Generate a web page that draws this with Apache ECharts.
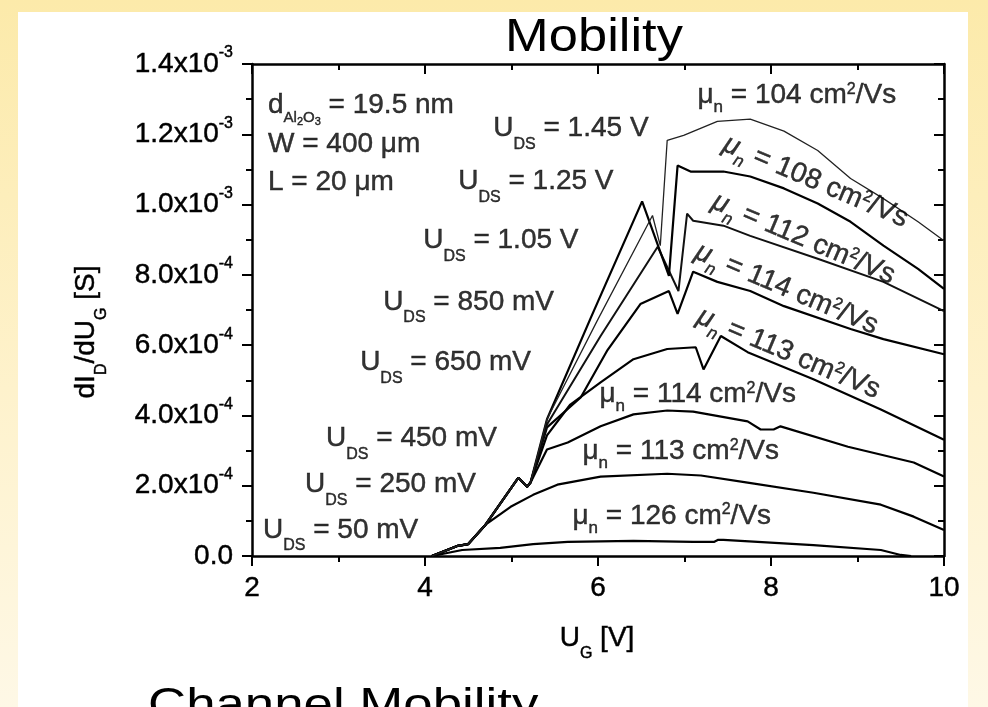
<!DOCTYPE html>
<html><head><meta charset="utf-8">
<script src="https://cdn.jsdelivr.net/npm/echarts@6/dist/echarts.min.js"></script>
<style>
html,body{margin:0;padding:0;width:988px;height:707px;overflow:hidden;}
body{background:linear-gradient(180deg,#FCEAAA 0%,#FEF2CC 55%,#FEF8E6 100%);}
#panel{position:absolute;left:18px;top:12px;width:950px;height:695px;background:#fff;}
#chart{position:absolute;left:0;top:0;width:988px;height:707px;}
</style></head><body><div id="panel"></div><div id="chart"></div>
<script>
const FONT = "'Liberation Sans', Arial, sans-serif";

// ---- tick labels ----
const xTickLabels = ['2', '4', '6', '8', '10'];
const yTickLabels = ['0.0', '2.0x10', '4.0x10', '6.0x10', '8.0x10', '1.0x10', '1.2x10', '1.4x10'];
const yTickExponents = ['', '-4', '-4', '-4', '-4', '-3', '-3', '-3'];

// ---- series (U_G [V], dI_D/dU_G [S]) ----
const seriesNames = ['50 mV', '250 mV', '450 mV', '650 mV', '850 mV', '1.05 V', '1.25 V', '1.45 V'];

const curve50 = [[4.08,0],[4.43,0.17e-4],[4.87,0.23e-4],[5.25,0.34e-4],[5.65,0.40e-4],[6.41,0.43e-4],[7.10,0.40e-4],[7.34,0.40e-4],[7.39,0.46e-4],[7.45,0.46e-4],[8.49,0.31e-4],[9.27,0.17e-4],[9.50,0.03e-4],[9.62,0]];

const curve250 = [[4.08,0],[4.38,0.29e-4],[4.50,0.34e-4],[4.70,0.89e-4],[4.99,1.40e-4],[5.25,1.74e-4],[5.53,2.03e-4],[6.03,2.26e-4],[6.80,2.34e-4],[7.19,2.29e-4],[7.73,2.09e-4],[8.49,1.80e-4],[9.27,1.46e-4],[9.65,1.12e-4],[10,0.74e-4]];

const curve450 = [[4.08,0],[4.38,0.29e-4],[4.50,0.34e-4],[4.70,0.89e-4],[5.08,2.23e-4],[5.18,1.97e-4],[5.22,2.09e-4],[5.41,3.03e-4],[5.65,3.23e-4],[6.03,3.69e-4],[6.41,4.03e-4],[6.80,4.14e-4],[7.10,4.11e-4],[7.73,3.83e-4],[7.88,3.60e-4],[8.03,3.60e-4],[8.11,3.69e-4],[8.89,3.11e-4],[9.65,2.66e-4],[10,2.26e-4]];

const curve650 = [[4.08,0],[4.38,0.29e-4],[4.50,0.34e-4],[4.70,0.89e-4],[5.08,2.23e-4],[5.18,1.97e-4],[5.22,2.09e-4],[5.41,3.43e-4],[5.68,4.31e-4],[6.03,4.94e-4],[6.41,5.60e-4],[6.80,5.89e-4],[7.13,5.94e-4],[7.22,5.31e-4],[7.42,6.26e-4],[7.73,5.80e-4],[8.49,5.03e-4],[9.27,4.17e-4],[10,3.31e-4]];

const curve850 = [[4.08,0],[4.38,0.29e-4],[4.50,0.34e-4],[4.70,0.89e-4],[5.08,2.23e-4],[5.18,1.97e-4],[5.22,2.09e-4],[5.41,3.66e-4],[5.80,4.51e-4],[6.11,5.86e-4],[6.49,7.17e-4],[6.82,7.54e-4],[6.92,6.89e-4],[7.10,8.09e-4],[7.38,7.80e-4],[7.76,7.54e-4],[8.15,7.11e-4],[8.92,6.46e-4],[9.30,6.17e-4],[10,5.74e-4]];

const curve1050 = [[4.08,0],[4.38,0.29e-4],[4.50,0.34e-4],[4.70,0.89e-4],[5.08,2.23e-4],[5.18,1.97e-4],[5.22,2.09e-4],[5.41,3.74e-4],[6.03,6.26e-4],[6.69,8.80e-4],[6.93,7.54e-4],[7.03,9.74e-4],[7.10,9.54e-4],[7.45,9.40e-4],[7.76,9.11e-4],[8.54,8.46e-4],[9.30,7.80e-4],[10,6.97e-4]];

const curve1250 = [[4.08,0],[4.38,0.29e-4],[4.50,0.34e-4],[4.70,0.89e-4],[5.08,2.23e-4],[5.18,1.97e-4],[5.22,2.09e-4],[5.41,3.89e-4],[5.91,6.74e-4],[6.51,10.09e-4],[6.82,7.97e-4],[6.92,11.11e-4],[7.07,10.94e-4],[7.45,10.94e-4],[7.76,10.80e-4],[8.15,10.46e-4],[8.54,10.03e-4],[8.92,9.51e-4],[9.30,8.83e-4],[9.70,8.17e-4],[10,7.60e-4]];

const curve1450 = [[4.08,0],[4.38,0.29e-4],[4.50,0.34e-4],[4.70,0.89e-4],[5.08,2.23e-4],[5.18,1.97e-4],[5.22,2.09e-4],[5.41,3.89e-4],[5.99,6.69e-4],[6.63,9.69e-4],[6.72,8.83e-4],[6.80,11.83e-4],[6.99,11.97e-4],[7.38,12.37e-4],[7.76,12.43e-4],[8.15,12.09e-4],[8.54,11.54e-4],[8.92,10.74e-4],[9.30,10.17e-4],[9.70,9.51e-4],[10,8.97e-4]];

const curves = [curve50, curve250, curve450, curve650, curve850, curve1050, curve1250, curve1450];

// ---- annotations (text, anchor in data units) ----
const annotationTexts = [
  '{p|d}{ps|Al}{pss|2}{ps|O}{pss|3}{p| = 19.5 nm}',
  '{p|W = 400 μm}',
  '{p|L = 20 μm}',
  '{t|U}{s|DS}{t| = 1.45 V}',
  '{t|U}{s|DS}{t| = 1.25 V}',
  '{t|U}{s|DS}{t| = 1.05 V}',
  '{t|U}{s|DS}{t| = 850 mV}',
  '{t|U}{s|DS}{t| = 650 mV}',
  '{t|U}{s|DS}{t| = 450 mV}',
  '{t|U}{s|DS}{t| = 250 mV}',
  '{t|U}{s|DS}{t| = 50 mV}',
  '{t|μ}{n|n}{t| = 104 cm}{sup|2}{t|/Vs}',
  '{ti|μ}{ni|n}{t| = 108 cm}{sup|2}{t|/Vs}',
  '{ti|μ}{ni|n}{t| = 112 cm}{sup|2}{t|/Vs}',
  '{ti|μ}{ni|n}{t| = 114 cm}{sup|2}{t|/Vs}',
  '{ti|μ}{ni|n}{t| = 113 cm}{sup|2}{t|/Vs}',
  '{t|μ}{n|n}{t| = 114 cm}{sup|2}{t|/Vs}',
  '{t|μ}{n|n}{t| = 113 cm}{sup|2}{t|/Vs}',
  '{t|μ}{n|n}{t| = 126 cm}{sup|2}{t|/Vs}'
];
const annotationX = [2.185, 2.185, 2.185, 4.789, 4.384, 3.979, 3.516, 3.25, 2.856, 2.613, 2.127, 7.15, 8.516, 8.377, 8.181, 8.204, 6.016, 5.82, 5.704];
const annotationY = [1.283e-3, 1.171e-3, 1.063e-3, 1.217e-3, 1.066e-3, 0.897e-3, 0.723e-3, 0.551e-3, 0.334e-3, 0.203e-3, 0.074e-3, 1.311e-3, 1.066e-3, 0.903e-3, 0.760e-3, 0.577e-3, 0.46e-3, 0.297e-3, 0.114e-3];
const annotationRotate = [0,0,0,0,0,0,0,0,0,0,0,0,-23,-23,-23,-23,0,0,0];

// ---- styles ----
const curveWidths = [2.2, 2.2, 2.2, 2.2, 2.2, 2, 2.2, 1.3];
const curveColors = ['#000','#000','#000','#000','#000','#111','#000','#222'];

function rs(size, extra, mode) {
  const base = {fontSize: size, fontFamily: FONT, color: '#000', fill: '#000'};
  if (mode === 'label') { base.textBorderColor = '#000'; base.textBorderWidth = 0.45; }
  if (mode === 'graphic') { base.stroke = '#000'; base.lineWidth = 0.45; }
  return Object.assign(base, extra || {});
}
function makeRich(mode) {
  return {
    t: rs(28, {lineHeight: 30}, mode),
    ti: rs(28, {lineHeight: 30, fontStyle: 'italic'}, mode),
    s: rs(16, {lineHeight: 18, padding: [32, 0, 0, 0]}, mode),
    n: rs(17, {lineHeight: 18, padding: [24, 0, 0, 0]}, mode),
    ni: rs(17, {lineHeight: 18, padding: [24, 0, 0, 0], fontStyle: 'italic'}, mode),
    sup: rs(16, {lineHeight: 18, padding: [0, 0, 12, 0]}, mode),
    p: rs(28, {lineHeight: 30}, mode),
    ps: rs(15, {lineHeight: 16, padding: [26, 0, 0, 0]}, mode),
    pss: rs(11, {lineHeight: 12, padding: [34, 0, 0, 0]}, mode),
    m: rs(28, {lineHeight: 30}, mode),
    e: rs(16, {lineHeight: 18, padding: [0, 0, 22, 0]}, mode)
  };
}
const RICH = makeRich('label');
const RICH_G = makeRich('graphic');

const chart = echarts.init(document.getElementById('chart'), null, {renderer: 'canvas'});

const axisLineStyle = {color: '#000', width: 2.5};
const tickStyle = {color: '#000', width: 2};

const series = curves.map((c, i) => ({
  name: seriesNames[i], type: 'line', data: c, showSymbol: false, symbol: 'none',
  lineStyle: {color: curveColors[i], width: curveWidths[i]}, z: 3, silent: true
}));

series.push({
  type: 'scatter', symbolSize: 0, silent: true, z: 4,
  data: annotationX.map((x, i) => ({
    value: [x, annotationY[i]],
    label: annotationRotate[i] ? {position: 'inside', rotate: annotationRotate[i], align: 'center'} : {position: 'right', distance: 0}
  })),
  label: {show: true, distance: 0, formatter: p => annotationTexts[p.dataIndex], rich: RICH}
});

const option = {
  animation: false,
  textStyle: {fontFamily: FONT},
  grid: {left: 252, right: 44, top: 64, bottom: 151, containLabel: false},
  xAxis: [{
    type: 'value', min: 2, max: 10, interval: 2, position: 'bottom',
    axisLine: {onZero: false, lineStyle: axisLineStyle},
    axisTick: {length: 10, lineStyle: tickStyle},
    minorTick: {show: true, splitNumber: 2, length: 6, lineStyle: tickStyle},
    splitLine: {show: false}, minorSplitLine: {show: false},
    axisLabel: {margin: 16, fontSize: 28, fontFamily: FONT, color: '#000', lineHeight: 32,
      textBorderColor: '#000', textBorderWidth: 0.45,
      formatter: v => xTickLabels[Math.round((v - 2) / 2)]}
  }, {
    type: 'value', min: 2, max: 10, interval: 2, position: 'top',
    axisLine: {onZero: false, lineStyle: axisLineStyle},
    axisTick: {inside: true, length: 10, lineStyle: tickStyle},
    minorTick: {show: true, splitNumber: 2, length: 6, lineStyle: tickStyle},
    splitLine: {show: false}, axisLabel: {show: false}
  }],
  yAxis: [{
    type: 'value', min: 0, max: 1.4e-3, interval: 2e-4, position: 'left',
    axisLine: {show: true, onZero: false, lineStyle: axisLineStyle},
    axisTick: {show: true, length: 10, lineStyle: tickStyle},
    minorTick: {show: true, splitNumber: 2, length: 6, lineStyle: tickStyle},
    splitLine: {show: false}, minorSplitLine: {show: false},
    axisLabel: {margin: 19, rich: RICH,
      formatter: v => {
        const i = Math.round(v / 2e-4);
        return yTickExponents[i] ? '{m|' + yTickLabels[i] + '}{e|' + yTickExponents[i] + '}' : '{m|' + yTickLabels[i] + '}';
      }}
  }, {
    type: 'value', min: 0, max: 1.4e-3, interval: 2e-4, position: 'right',
    axisLine: {show: true, onZero: false, lineStyle: axisLineStyle},
    axisTick: {show: true, inside: true, length: 10, lineStyle: tickStyle},
    minorTick: {show: true, splitNumber: 2, length: 6, lineStyle: tickStyle},
    splitLine: {show: false}, axisLabel: {show: false}
  }],
  graphic: [
    {type: 'text', x: 594, y: 38, scaleX: 1.14, z: 10,
     style: {text: 'Mobility', fontSize: 46, fontFamily: FONT, fill: '#000', textAlign: 'center', textVerticalAlign: 'middle', align: 'center', verticalAlign: 'middle'}},
    {type: 'text', x: 148, y: 685, scaleX: 1.2, z: 10,
     style: {text: 'Channel Mobility', fontSize: 44, fontFamily: FONT, fill: '#000', textAlign: 'left', textVerticalAlign: 'top', align: 'left', verticalAlign: 'top'}},
    {type: 'text', x: 86, y: 332, rotation: Math.PI / 2, z: 10,
     style: {text: '{m|dI}{s|D}{m|/dU}{s|G}{m| [S]}', rich: RICH_G, fill: '#000', textAlign: 'center', textVerticalAlign: 'middle', align: 'center', verticalAlign: 'middle'}},
    {type: 'text', x: 597, y: 638, z: 10,
     style: {text: '{m|U}{s|G}{m| [V]}', rich: RICH_G, fill: '#000', textAlign: 'center', textVerticalAlign: 'middle', align: 'center', verticalAlign: 'middle'}}
  ],
  series: series
};
chart.setOption(option);
</script>
</body></html>
